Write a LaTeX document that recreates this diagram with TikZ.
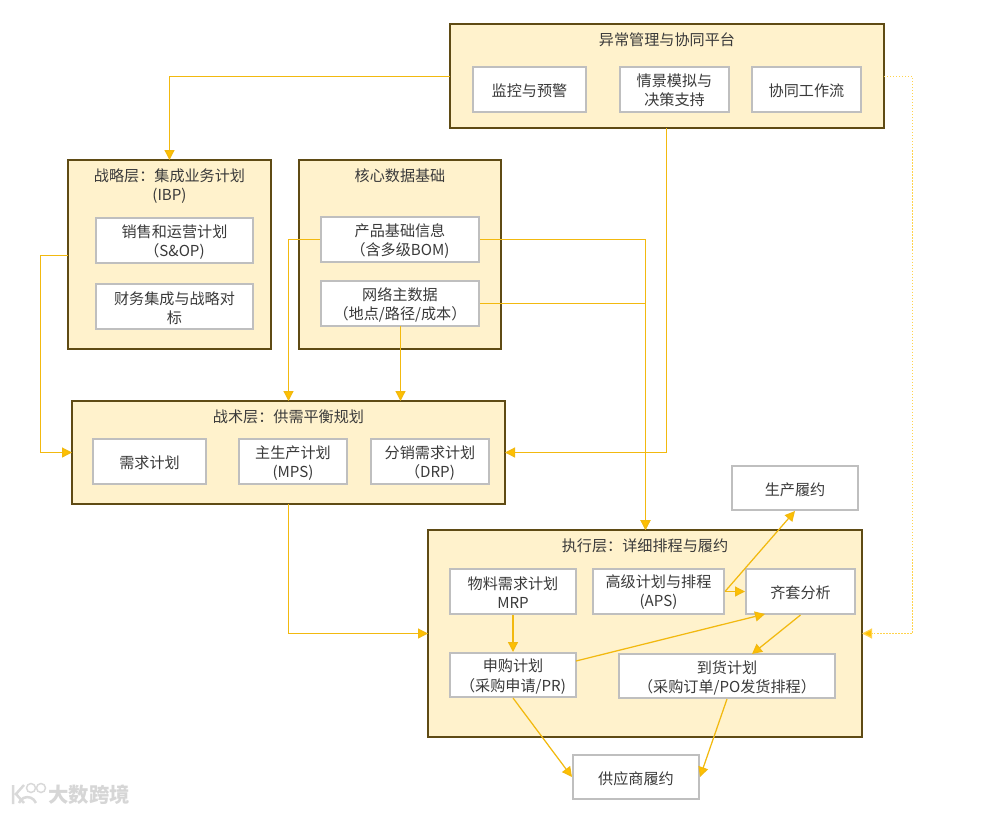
\documentclass[tikz,border=0pt]{standalone}
\usepackage{fontspec}
\usepackage{xcolor}
\setmainfont{Noto Sans CJK SC}
\usetikzlibrary{arrows.meta}
\definecolor{layerfill}{HTML}{FFF2CC}
\definecolor{layerline}{HTML}{5F4B14}
\definecolor{cellline}{HTML}{BFBFBF}
\definecolor{linkcolor}{HTML}{FFC000}
\definecolor{linkline}{HTML}{F2B90F}
\definecolor{inktext}{HTML}{3A3A3A}
\begin{document}
\begin{tikzpicture}
  [
    x=0.2mm, y=-0.2mm,
    every node/.style={
       font=\fontsize{8.6}{10.9}\selectfont,
       text=inktext,
       align=center,
       inner sep=0pt,
       execute at begin node={\rule{0pt}{9.2pt}}
    },
    twoline/.style={
       text height=20pt
    },
    wh/.style 2 args={
       minimum width=#1*0.2mm,
       minimum height=#2*0.2mm
    },
    layer/.style={
       draw=layerline,
       fill=layerfill,
       line width=0.4mm
    },
    cell/.style={
       draw=cellline,
       fill=white,
       line width=0.4mm
    },
    ld/.style={
       draw=linkline,
       line width=0.25mm,
       -{Triangle[length=2mm,width=2mm,fill=linkcolor]}
    },
    ldpale/.style={
       ld,
       densely dotted,
       draw=linkcolor!70!white
    }
  ]
  \useasboundingbox (0,0) rectangle (991,813);

  \node (platform) at (667,76) [layer, wh={434}{104}] {};
  \node (strategy) at (169.5,254.5) [layer, wh={203}{189}] {};
  \node (coredata) at (400,254.5) [layer, wh={202}{189}] {};
  \node (tactical) at (288.5,452.5) [layer, wh={433}{103}] {};
  \node (execution) at (645,633.5) [layer, wh={434}{207}] {};

  \node (tPlatform) at (667,38) {异常管理与协同平台};
  \node (tStrategy) at (169.5,186.5) {战略层：集成业务计划\\(IBP)};
  \node (tCoredata) at (400,174) {核心数据基础};
  \node (tTactical) at (288.5,415) {战术层：供需平衡规划};
  \node (tExecution) at (645,544) {执行层：详细排程与履约};

  \node (monitor) at (529.5,89) [cell, wh={113}{45}] {监控与预警};
  \node (scenario) at (674.5,89.5) [cell, twoline, text height=19pt, wh={109}{45}] {情景模拟与\\决策支持};
  \node (workflow) at (806.5,89) [cell, wh={109}{45}] {协同工作流};

  \node (sop) at (174.5,240.5) [cell, twoline, wh={157}{45}] {销售和运营计划\\（S\&OP)};
  \node (finance) at (174.5,306.5) [cell, twoline, wh={157}{45}] {财务集成与战略对\\标};

  \node (bom) at (400,239.5) [cell, twoline, wh={158}{45}] {产品基础信息\\（含多级BOM)};
  \node (network) at (400,303.5) [cell, twoline, wh={158}{45}] {网络主数据\\（地点/路径/成本）};

  \node (demand) at (149.5,461.5) [cell, wh={113}{45}] {需求计划};
  \node (mps) at (293,461.5) [cell, twoline, wh={108}{45}] {主生产计划\\(MPS)};
  \node (drp) at (430,461.5) [cell, twoline, wh={118}{45}] {分销需求计划\\（DRP)};

  \node (mrp) at (513,591.5) [cell, twoline, text height=19pt, wh={126}{45}] {物料需求计划\\MRP};
  \node (aps) at (658.5,591.5) [cell, twoline, text height=19pt, wh={131}{45}] {高级计划与排程\\(APS)};
  \node (kit) at (800.5,591.5) [cell, wh={109}{45}] {齐套分析};
  \node (pr) at (513,675) [cell, twoline, wh={126}{44}] {申购计划\\（采购申请/PR)};
  \node (arrival) at (727,676) [cell, twoline, wh={216}{44}] {到货计划\\（采购订单/PO发货排程）};

  \node (production) at (795,488) [cell, wh={126}{44}] {生产履约};
  \node (supplier) at (636,777) [cell, wh={126}{44}] {供应商履约};

  \coordinate (platformOut) at (450,76.5);
  \coordinate (strategyIn) at (169.5,160);
  \coordinate (platformDown) at (666.5,128);
  \coordinate (tacticalRight) at (505,452.5);
  \coordinate (platformRight) at (884,76.5);
  \coordinate (executionRight) at (862,633.5);
  \coordinate (strategyOut) at (68,255.5);
  \coordinate (tacticalLeft) at (72,452.5);
  \coordinate (tacticalInA) at (288.5,401);
  \coordinate (tacticalInB) at (400.5,401);
  \coordinate (tacticalOut) at (288.5,504);
  \coordinate (networkOut) at (400.5,326);
  \coordinate (executionLeft) at (428,633.5);
  \coordinate (executionTop) at (645.5,530);
  \coordinate (prOut) at (576,661);
  \coordinate (kitIn) at (765,614);
  \coordinate (arrivalIn) at (752,654);

  \draw [ld] (platformOut) -| (strategyIn);
  \draw [ld] (platformDown) |- (tacticalRight);
  \draw [ldpale] (platformRight) -- (912.5,76.5) |- (executionRight);
  \draw [ld] (strategyOut) -- (40.5,255.5) |- (tacticalLeft);
  \draw [ld] (bom.west) -| (tacticalInA);
  \draw [ld] (networkOut) -- (tacticalInB);
  \draw [ld] (tacticalOut) |- (executionLeft);
  \draw [ld] (bom.east) -| (executionTop);
  \draw [ld] (network.east) -| (executionTop);
  \draw [ld] (aps.east) -- (kit.west);
  \draw [ld] (aps.east) -- (production.south);
  \draw [ld] (mrp.south) -- (pr.north);
  \draw [ld] (prOut) -- (kitIn);
  \draw [ld] (kit.south) -- (arrivalIn);
  \draw [ld] (pr.south) -- (supplier.west);
  \draw [ld] (arrival.south) -- (supplier.east);

  \node (watermark) at (89,795) [font=\fontsize{11.6}{14}\selectfont\bfseries, text=black!16] {大数跨境};
  \draw [black!15, line width=0.5mm] (13,785) -- (13,804) (24,785) -- (16,794) -- (24,803) (19,803) arc (200:340:9);
  \draw [black!15, line width=0.3mm] (31,788) circle (4.5) (41,788) circle (4.5);
\end{tikzpicture}
\end{document}
